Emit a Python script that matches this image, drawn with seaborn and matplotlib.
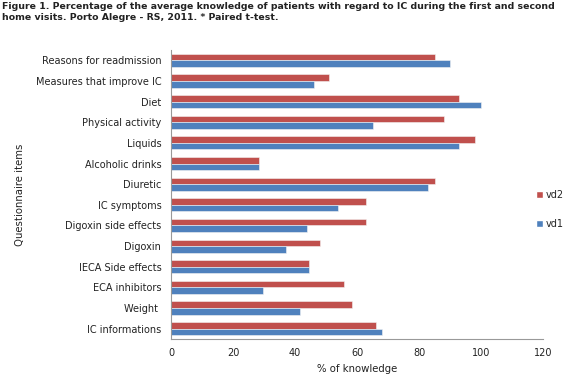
import matplotlib
matplotlib.use("Agg")
import matplotlib.pyplot as plt
import seaborn as sns
import pandas as pd
import numpy as np

items = ["Reasons for readmission", "Measures that improve IC", "Diet",
         "Physical activity", "Liquids", "Alcoholic drinks", "Diuretic",
         "IC symptoms", "Digoxin side effects", "Digoxin", "IECA Side effects",
         "ECA inhibitors", "Weight ", "IC informations"]
vd2 = [85, 51, 93, 88, 98, 28.5, 85, 63, 63, 48, 44.5, 55.7, 58.5, 66]
vd1 = [90, 46, 100, 65, 93, 28.5, 83, 54, 44, 37, 44.5, 29.7, 41.7, 68]
series = ["vd2", "vd1"]
colors = ["#C0504D", "#4F81BD"]

df = pd.DataFrame({
    "item": items * 2,
    "value": vd2 + vd1,
    "series": ["vd2"] * len(items) + ["vd1"] * len(items),
})

sns.set_style("white")
plt.rcParams["font.family"] = ["DejaVu Sans"]

fig = plt.figure(figsize=(5.8, 3.78), dpi=100)
ax = fig.add_axes([171/580, 1 - 339/378, (543-171)/580, (339-50)/378])

sns.barplot(data=df, x="value", y="item", hue="series", hue_order=series,
            palette=colors, saturation=1, orient="h", width=0.64, ax=ax,
            edgecolor="#f4f4f4", linewidth=0.4, legend=False)

ax.set_xlim(0, 120)
ax.set_xticks(np.arange(0, 121, 20))
ax.set_ylim(len(items) - 0.5, -0.5)
ax.set_xlabel("% of knowledge", fontsize=7.3, color="#222222", labelpad=4)
ax.set_ylabel("Questionnaire items", fontsize=7.3, color="#222222", labelpad=8)
ax.tick_params(axis="x", labelsize=7, colors="#222222", length=3, direction="out",
               color="#999999")
ax.tick_params(axis="y", labelsize=7, colors="#222222", length=0, pad=7)
ax.set_yticks(np.arange(-0.5, len(items), 1), minor=True)
ax.tick_params(axis="y", which="minor", length=3, direction="out", color="#999999")
for s in ["top", "right"]:
    ax.spines[s].set_visible(False)
for s in ["left", "bottom"]:
    ax.spines[s].set_color("#999999")
    ax.spines[s].set_linewidth(0.8)

from matplotlib.patches import Patch
handles = [Patch(facecolor=c, edgecolor="white", label=l) for c, l in zip(colors, series)]
fig.legend(handles=handles, loc="center left", bbox_to_anchor=(527/580, 1 - 209.5/378),
           frameon=False, fontsize=7, handlelength=0.7, handleheight=0.7,
           handletextpad=0.3, labelspacing=2.0)

fig.text(0.003, 0.994, "Figure 1. Percentage of the average knowledge of patients with regard to IC during the first and second\nhome visits. Porto Alegre - RS, 2011. * Paired t-test.",
         ha="left", va="top", fontsize=6.75, fontweight="bold", color="#222222",
         linespacing=1.2)

fig.savefig("out.png", dpi=100)
